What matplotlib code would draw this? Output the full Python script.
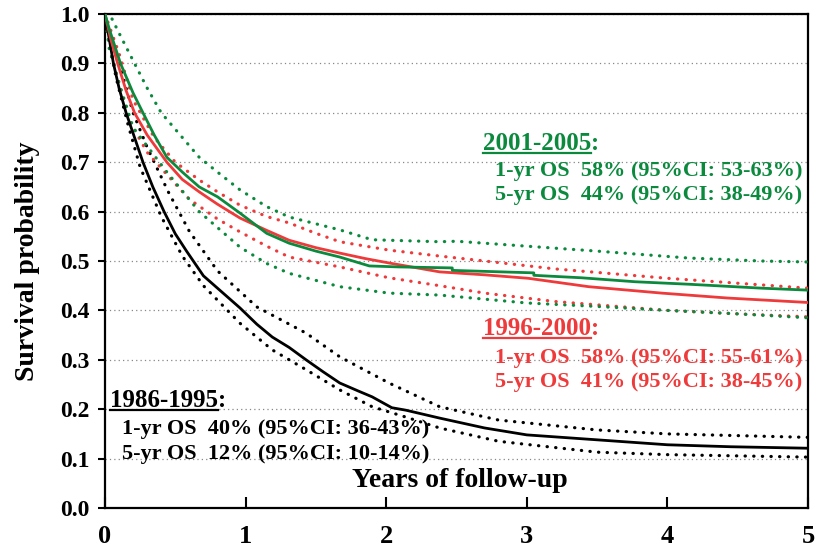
import matplotlib.pyplot as plt
from matplotlib.lines import Line2D

plt.rcParams['font.family'] = ['Liberation Serif', 'DejaVu Serif']
plt.rcParams['font.weight'] = 'bold'

# --- 1986-1995 (black) ---
t_86 = [0, 0.03, 0.06, 0.1, 0.15, 0.21, 0.27, 0.34, 0.42, 0.5, 0.58, 0.7, 0.8, 0.96, 1.08, 1.19, 1.31, 1.43,
        1.55, 1.67, 1.8, 1.9, 2.04, 2.14, 2.38, 2.7, 3.0, 3.5, 4.0, 4.45, 5.0]
s_86 = [1.0, 0.95, 0.90, 0.85, 0.80, 0.75, 0.70, 0.65, 0.60, 0.555, 0.52, 0.47, 0.445, 0.405, 0.372, 0.346,
        0.325, 0.300, 0.276, 0.253, 0.237, 0.225, 0.203, 0.198, 0.182, 0.162, 0.148, 0.138, 0.128, 0.124, 0.121]
tu_86 = [0, 0.05, 0.11, 0.2, 0.3, 0.45, 0.6, 0.8, 1.08, 1.43, 1.67, 2.02, 2.38, 2.8, 3.5, 4.0, 5.0]
u_86 = [1.0, 0.95, 0.89, 0.80, 0.73, 0.64, 0.56, 0.48, 0.407, 0.354, 0.306, 0.253, 0.205, 0.178, 0.158, 0.15, 0.143]
tl_86 = [0, 0.03, 0.08, 0.16, 0.25, 0.4, 0.55, 0.7, 0.96, 1.19, 1.43, 1.67, 1.9, 2.14, 2.38, 2.8, 3.5, 4.0, 5.0]
l_86 = [1.0, 0.94, 0.87, 0.78, 0.69, 0.59, 0.51, 0.45, 0.374, 0.32, 0.28, 0.239, 0.205, 0.184, 0.162, 0.135,
        0.113, 0.108, 0.103]

# --- 1996-2000 (red) ---
t_96 = [0, 0.04, 0.09, 0.15, 0.21, 0.3, 0.44, 0.55, 0.67, 0.8, 0.96, 1.15, 1.31, 1.5, 1.67, 1.85, 2.02, 2.38,
        2.7, 3.01, 3.44, 3.96, 4.43, 5.0]
s_96 = [1.0, 0.95, 0.90, 0.845, 0.80, 0.755, 0.70, 0.665, 0.64, 0.615, 0.587, 0.562, 0.542, 0.527, 0.516,
        0.505, 0.496, 0.478, 0.472, 0.465, 0.448, 0.435, 0.425, 0.416]
tu_96 = [0, 0.05, 0.1, 0.2, 0.35, 0.5, 0.67, 0.8, 0.96, 1.15, 1.31, 1.5, 1.67, 2.02, 2.38, 2.7, 3.2, 4.0, 4.5, 5.0]
u_96 = [1.0, 0.96, 0.92, 0.826, 0.75, 0.70, 0.664, 0.64, 0.613, 0.59, 0.577, 0.556, 0.539, 0.522, 0.51,
        0.50, 0.484, 0.465, 0.455, 0.445]
tl_96 = [0, 0.03, 0.08, 0.18, 0.3, 0.44, 0.6, 0.8, 0.96, 1.15, 1.31, 1.67, 2.02, 2.38, 2.7, 3.2, 4.0, 4.5, 5.0]
l_96 = [1.0, 0.94, 0.88, 0.78, 0.72, 0.675, 0.625, 0.585, 0.559, 0.53, 0.508, 0.488, 0.466, 0.45, 0.435,
        0.418, 0.40, 0.393, 0.387]

# --- 2001-2005 (green) ---
t_01 = [0, 0.03, 0.11, 0.2, 0.27, 0.35, 0.44, 0.55, 0.67, 0.8, 0.96, 1.15, 1.31, 1.5, 1.67, 1.88, 2.09, 2.47,
        2.47, 3.05, 3.05, 3.39, 3.77, 4.15, 4.67, 5.0]
s_01 = [1.0, 0.97, 0.90, 0.84, 0.80, 0.755, 0.71, 0.68, 0.65, 0.63, 0.597, 0.556, 0.536, 0.52, 0.508, 0.49,
        0.488, 0.486, 0.481, 0.476, 0.471, 0.466, 0.458, 0.453, 0.445, 0.441]
tu_01 = [0, 0.05, 0.12, 0.21, 0.3, 0.4, 0.55, 0.67, 0.8, 0.96, 1.15, 1.31, 1.67, 1.9, 2.38, 2.5, 3.05,
         3.5, 4.15, 4.67, 5.0]
u_01 = [1.0, 0.99, 0.95, 0.90, 0.85, 0.80, 0.75, 0.71, 0.68, 0.644, 0.61, 0.589, 0.563, 0.543, 0.539,
        0.54, 0.529, 0.52, 0.506, 0.50, 0.498]
tl_01 = [0, 0.03, 0.1, 0.2, 0.44, 0.67, 0.96, 1.15, 1.31, 1.67, 2.02, 2.38, 3.0, 3.5, 4.0, 4.5, 5.0]
l_01 = [1.0, 0.93, 0.86, 0.77, 0.68, 0.60, 0.528, 0.495, 0.475, 0.448, 0.435, 0.431, 0.415, 0.408,
        0.40, 0.393, 0.385]

black = '#000000'
red = '#ee3a3a'
green = '#0b8a3e'

fig = plt.figure(figsize=(8.23, 5.52), dpi=100)
ax = fig.add_axes([105/823, 44/552, 703/823, 494/552])

dots = (0, (0.1, 2.6))
for t, s, tu, u, tl, l, c in [(t_86, s_86, tu_86, u_86, tl_86, l_86, black),
                              (t_96, s_96, tu_96, u_96, tl_96, l_96, red),
                              (t_01, s_01, tu_01, u_01, tl_01, l_01, green)]:
    ax.plot(tu, u, color=c, lw=2.3, linestyle=dots, dash_capstyle='round', zorder=3)
    ax.plot(tl, l, color=c, lw=2.3, linestyle=dots, dash_capstyle='round', zorder=3)
    ax.plot(t, s, color=c, lw=2.0, zorder=4)

ax.set_xlim(0, 5)
ax.set_ylim(0, 1)
ax.set_xticks([0, 1, 2, 3, 4, 5])
ax.set_yticks([i / 10 for i in range(11)])
ax.set_yticklabels(['%.1f' % (i / 10) for i in range(11)])
ax.tick_params(axis='x', direction='in', length=8, width=1.5, labelsize=19, pad=12)
ax.tick_params(axis='y', direction='out', length=5, width=1.5, labelsize=17, pad=6)
ax.yaxis.grid(True, color='#888888', linestyle=(0, (1, 2.5)), lw=0.9)
ax.set_axisbelow(True)
for sp in ax.spines.values():
    sp.set_linewidth(1.6)

ax.text(-0.11, 0.5, 'Survival probability', transform=ax.transAxes, rotation=90,
        ha='center', va='center', fontsize=20)
ax.text(0.505, 0.0425, 'Years of follow-up', transform=ax.transAxes, ha='center',
        va='baseline', fontsize=20)


def px(x, y):
    return (x - 105) / 703, (508 - y) / 494


titles = []
# (title, lines, color, title px, line px)
groups = [('2001-2005', ['1-yr OS  58% (95%CI: 53-63%)', '5-yr OS  44% (95%CI: 38-49%)'], green,
           (483, 150), (495, [176, 200])),
          ('1996-2000', ['1-yr OS  58% (95%CI: 55-61%)', '5-yr OS  41% (95%CI: 38-45%)'], red,
           (483, 335), (495, [363, 387])),
          ('1986-1995', ['1-yr OS  40% (95%CI: 36-43%)', '5-yr OS  12% (95%CI: 10-14%)'], black,
           (110, 407), (122, [434, 459]))]
for name, lines, c, (tx, ty), (lx, lys) in groups:
    tt = ax.text(*px(tx, ty), name, transform=ax.transAxes, color=c, fontsize=18, va='baseline')
    titles.append((tt, c))
    for line, ly in zip(lines, lys):
        ax.text(*px(lx, ly), line, transform=ax.transAxes, color=c, fontsize=16, va='baseline')

# underline the period names, then add the colon
fig.canvas.draw()
r = fig.canvas.get_renderer()
inv = fig.transFigure.inverted()
for tt, c in titles:
    bb = tt.get_window_extent(r)
    base = tt.get_transform().transform(tt.get_position())[1]
    x0, _ = inv.transform((bb.x0, bb.y0))
    x1, _ = inv.transform((bb.x1, bb.y0))
    uy = inv.transform((0, base - 3))[1]
    fig.add_artist(Line2D([x0, x1], [uy, uy], color=c, lw=1.6, transform=fig.transFigure))
    ax.text(bb.x1, base, ':', transform=None, color=c, fontsize=18, va='baseline')

fig.savefig('out.png', dpi=100)
